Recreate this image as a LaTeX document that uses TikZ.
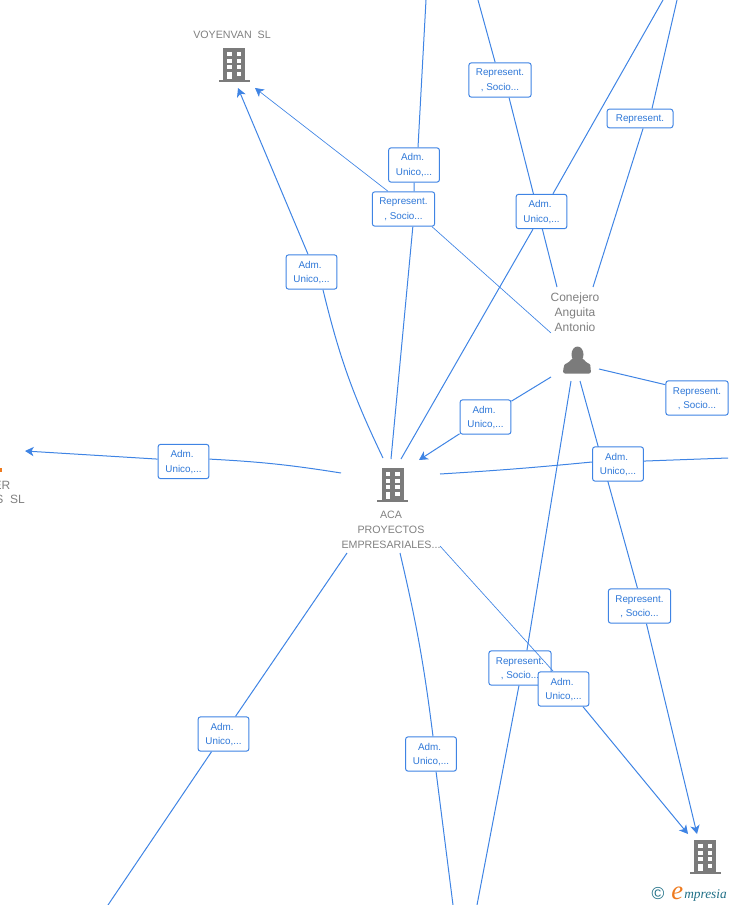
\documentclass[tikz,border=0pt]{standalone}
\usepackage{fontspec}
\setmainfont{Liberation Sans}
\newfontfamily\logofont{Liberation Serif}
\usetikzlibrary{arrows.meta,backgrounds}
\definecolor{edgeblue}{HTML}{3F84E4}
\definecolor{boxtext}{HTML}{2F78D8}
\definecolor{icongrey}{HTML}{7B7B7B}
\definecolor{labelgrey}{HTML}{808080}
\definecolor{logoteal}{HTML}{1F6F86}
\definecolor{logoorange}{HTML}{EE7A1E}
\newcommand{\lowerln}[1]{\raisebox{-0.75pt}[5.3pt][1.6pt]{#1}}
\newcommand{\admtext}{\lowerln{Adm.\kern2.2pt}\\\lowerln{Unico,...}}
\newcommand{\reptext}{\lowerln{Represent.}\\\lowerln{, Socio...}}
\tikzset{
  x=0.75pt,y=-0.75pt,
  rolebox/.style={draw=edgeblue,line width=0.75pt,fill=white,rounded corners=2pt,inner sep=0pt,align=center,
    text=boxtext,font=\fontsize{7.4}{11.2}\selectfont},
  adm/.style={rolebox,minimum width=38.2pt,minimum height=25.8pt},
  rep/.style={rolebox,minimum width=46.8pt,minimum height=25.8pt},
  repone/.style={rolebox,minimum width=49.5pt,minimum height=14.2pt},
  linkline/.style={draw=edgeblue,line width=0.75pt},
  thinline/.style={draw=edgeblue,line width=0.5pt},
  arrowline/.style={linkline,-{Stealth[length=6.5pt,width=7pt,inset=1.8pt]}},
  entity/.style={inner sep=0pt,align=center,text=labelgrey,font=\fontsize{8}{11.2}\selectfont},
  bigentity/.style={entity,font=\fontsize{9}{11.2}\selectfont},
  bldg/.pic={
    \fill[icongrey] (-11,-34) rectangle (11,-2);
    \fill[icongrey] (-15.5,-2) rectangle (15.5,0);
    \foreach \wy in {-30,-23,-17} {
      \fill[white] (-7,\wy) rectangle (-2.5,\wy+4);
      \fill[white] (2.5,\wy) rectangle (7,\wy+4);
    }
    \fill[white] (-7,-10) rectangle (-2.5,-3);
    \fill[white] (2.5,-10) rectangle (7,-6);
  }
}
\begin{document}
\begin{tikzpicture}
\useasboundingbox (0,0) rectangle (728,905);

% free ends
\coordinate (topA) at (426,0);
\coordinate (topB) at (478,0);
\coordinate (topC) at (663,0);
\coordinate (topD) at (677,0);
\coordinate (rightH) at (728,458);
\coordinate (botJ) at (477,905);
\coordinate (botM) at (453,905);
\coordinate (botN) at (108,905);
\coordinate (tipVa) at (238,88);
\coordinate (tipVb) at (255,88);
\coordinate (tipOut) at (25,451);
\coordinate (tipCa) at (419,460);
\coordinate (tipRa) at (697,834);
\coordinate (tipRb) at (688,834);
\coordinate (enterB13) at (553,671);
% ends at the ACA hub
\coordinate (acaA) at (383,458);
\coordinate (acaB) at (391,459);
\coordinate (acaC) at (401,459);
\coordinate (acaE) at (440,474);
\coordinate (acaF) at (440,546);
\coordinate (acaM) at (400,553);
\coordinate (acaN) at (347,553);
\coordinate (acaW) at (341,473);
% ends at the Conejero hub
\coordinate (conA) at (551,333);
\coordinate (conB) at (557,287);
\coordinate (conC) at (593,287);
\coordinate (conD) at (599,369);
\coordinate (conE) at (551,377);
\coordinate (conF) at (571,381);
\coordinate (conG) at (580,381);

% names
\node[entity] (voyen) at (232,35) {VOYENVAN\ \ SL};
\node[entity] (aca) at (391,529.5) {ACA\\PROYECTOS\\EMPRESARIALES...};
\node[bigentity] (cone) at (575,312) {Conejero\\Anguita\\Antonio};
\node[bigentity,anchor=east] (cutA) at (10.5,485) {ER};
\node[bigentity,anchor=east] (cutB) at (25,499) {S\ \ SL};
\fill[logoorange] (0,468) rectangle (2,471.5);

% icons
\pic at (234,82) {bldg};
\pic at (392.5,502) {bldg};
\pic at (705,874) {bldg};
\fill[icongrey] (577.5,354.5) ellipse (6 and 8);
\fill[icongrey,rounded corners=1.5pt] (563,373.5) -- (563.5,367) .. controls (565,363.5) and (569,363) .. (572,358) -- (583,358) .. controls (586,363) and (590,363.5) .. (590.5,367) -- (591,373.5) -- cycle;

% boxes
\node[adm] (b1) at (311.5,272) {\admtext};
\node[rep] (b2) at (403.5,209) {\reptext};
\node[adm] (b3) at (414,165) {\admtext};
\node[rep] (b4) at (500,80) {\reptext};
\node[adm] (b5) at (541.5,211.5) {\admtext};
\node[repone] (b6) at (640,118.5) {\lowerln{Represent.}};
\node[rep] (b7) at (697,398) {\reptext};
\node[adm] (b8) at (485.5,417) {\admtext};
\node[adm] (b9) at (618,464) {\admtext};
\node[adm] (b10) at (183.5,461.5) {\admtext};
\node[rep] (b11) at (639.5,606) {\reptext};
\node[rep] (b12) at (520,668) {\reptext};
\draw[thinline] (acaF) -- (enterB13);
\node[adm] (b13) at (563.5,689) {\admtext};
\node[adm] (b14) at (431,754) {\admtext};
\node[adm] (b15) at (223.5,734) {\admtext};

% logo
\node[inner sep=0pt,text=logoteal,font=\fontsize{13}{13}\selectfont] (logoc) at (658,894) {©};
\node[inner sep=0pt,anchor=base west,text=logoorange,font=\logofont\itshape\fontsize{20}{20}\selectfont] (logoe) at (671,899) {e};
\node[inner sep=0pt,anchor=base west,text=logoteal,font=\logofont\itshape\fontsize{10}{10}\selectfont] (logom) at (684,898) {mpresia};

\begin{scope}[on background layer]
\draw[linkline] (acaA) to[bend left=6] ([xshift=8.6pt]b1.south);
\draw[arrowline] ([xshift=-2.6pt]b1.north) -- (tipVa);
\draw[thinline] (conA) -- ([xshift=21.4pt]b2.south);
\draw[thinline,-{Stealth[length=6.5pt,width=7pt,inset=1.8pt]}] ([xshift=-11.6pt]b2.north) -- (tipVb);
\draw[linkline] (acaB) -- ([xshift=7pt]b2.south);
\draw[linkline] ([xshift=8pt]b2.north) -- (b3.south);
\draw[linkline] ([xshift=3pt]b3.north) -- (topA);
\draw[linkline] (acaC) -- ([xshift=-6.4pt]b5.south);
\draw[linkline] ([xshift=8.6pt]b5.north) -- (topC);
\draw[linkline] (conB) -- ([xshift=6.8pt]b4.south);
\draw[linkline] (b4) -- (topB);
\draw[linkline] (conC) -- ([xshift=2.3pt]b6.south);
\draw[linkline] ([xshift=9pt]b6.north) -- (topD);
\draw[linkline] (conD) -- ([yshift=10pt]b7.west);
\draw[linkline] (acaE) to[bend right=1] ([yshift=1.5pt]b9.west);
\draw[linkline] ([yshift=2.2pt]b9.east) -- (rightH);
\draw[linkline] (conE) -- (b8);
\draw[arrowline] (b8) -- (tipCa);
\draw[linkline] (conF) -- ([xshift=5.2pt]b12.north);
\draw[linkline] ([xshift=-0.8pt]b12.south) -- (botJ);
\draw[linkline] (conG) -- ([xshift=-1.5pt]b11.north);
\draw[arrowline] ([xshift=5.2pt]b11.south) -- (tipRa);
\draw[arrowline] ([xshift=14.6pt]b13.south) -- (tipRb);
\draw[linkline] (acaM) to[bend left=3] ([xshift=1.5pt]b14.north);
\draw[linkline] ([xshift=3.8pt]b14.south) -- (botM);
\draw[linkline] (acaN) -- (b15);
\draw[linkline] (b15) -- (botN);
\draw[linkline] (acaW) to[bend right=3] ([yshift=1.8pt]b10.east);
\draw[arrowline] ([yshift=1.8pt]b10.west) -- (tipOut);
\end{scope}
\end{tikzpicture}
\end{document}
